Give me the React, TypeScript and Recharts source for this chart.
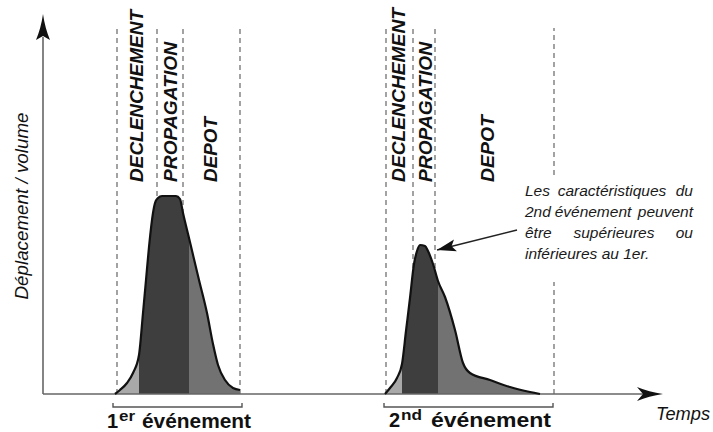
import React from "react";
import { ComposedChart, Area, Line, XAxis, YAxis, ReferenceLine, Scatter } from "recharts";

// time (t) / displacement-volume (v), schematic units
const EVENT1_T = [72, 77, 84, 90, 96, 100, 103, 106, 110, 112, 115, 119, 133, 137, 140, 146, 156, 164, 170, 175, 182, 190, 197];
const EVENT1_V = [0, 4, 11, 21, 39, 81, 114, 147, 181, 191, 196, 198, 198, 195, 181, 156, 114, 81, 50, 29, 14, 6, 4];
const EVENT1_PHASES = [96, 146];

const EVENT2_T = [342, 347, 354, 359, 363, 367, 371, 374, 377, 382, 385, 390, 395, 402, 412, 420, 427, 447, 467, 487, 497];
const EVENT2_V = [0, 6, 16, 30, 63, 96, 130, 143, 149, 148, 143, 130, 113, 97, 64, 31, 21, 14, 7, 2, 0];
const EVENT2_PHASES = [359, 395];

const EVENT1_DASHES = [74, 114, 140, 197];
const EVENT2_DASHES = [343, 370, 392];
const EVENT2_LAST_DASH = 511;
const DASH_TOP = 366;
const LAST_DASH_GAP = [112, 219];

const X_MAX = 620;
const Y_MAX = 380;
const Y_ARROW_NOTCH = 357;
const X_ARROW_NOTCH = 600;

const ANNOT_TAIL = { t: 474, v: 164 };
const ANNOT_TIP = { t: 394, v: 144 };

const PHASE_LABELS = ["DECLENCHEMENT", "PROPAGATION", "DEPOT"];
const EVENT1_LABEL_X = [143, 177, 217];
const EVENT1_LABEL_LEN = [172, 140, 65];
const EVENT2_LABEL_X = [405, 432, 494];
const EVENT2_LABEL_LEN = [174, 140, 67];

const NOTE_LINES = [
  ["Les", "caractéristiques", "du"],
  ["2nd", "événement", "peuvent"],
  ["être", "supérieures", "ou"],
];
const NOTE_MID_X = [612, 593, 614];
const NOTE_LAST = "inférieures au 1er.";

const COLORS = { light: "#a9a9a9", dark: "#3e3e3e", medium: "#727272" };

type Row = { t: number; light: number | null; dark: number | null; medium: number | null; outline: number | null };

const rowsFor = (ts: number[], vs: number[], phases: number[]): Row[] =>
  ts.map((t, i) => ({
    t,
    light: t <= phases[0] ? vs[i] : null,
    dark: t >= phases[0] && t <= phases[1] ? vs[i] : null,
    medium: t >= phases[1] ? vs[i] : null,
    outline: vs[i],
  }));

const rows: Row[] = [
  ...rowsFor(EVENT1_T, EVENT1_V, EVENT1_PHASES),
  { t: 270, light: null, dark: null, medium: null, outline: null },
  ...rowsFor(EVENT2_T, EVENT2_V, EVENT2_PHASES),
];

const UpArrow = (p: any) => {
  const { cx, cy } = p;
  return (
    <path
      d={`M${cx},${cy} Q${cx + 2},${cy + 14} ${cx + 7},${cy + 26} L${cx},${cy + 22} L${cx - 7},${cy + 26} Q${cx - 2},${cy + 14} ${cx},${cy} Z`}
      fill="#111"
    />
  );
};

const RightArrow = (p: any) => {
  const { cx, cy } = p;
  return (
    <path
      d={`M${cx},${cy} Q${cx - 14},${cy - 2} ${cx - 26},${cy - 7} L${cx - 20},${cy} L${cx - 26},${cy + 7} Q${cx - 14},${cy + 2} ${cx},${cy} Z`}
      fill="#111"
    />
  );
};

const NoteArrow = (p: any) => {
  const { cx, cy } = p;
  const dx = ANNOT_TAIL.t - ANNOT_TIP.t;
  const dy = -(ANNOT_TAIL.v - ANNOT_TIP.v);
  const len = Math.hypot(dx, dy);
  const ux = dx / len, uy = dy / len;
  const nx = -uy, ny = ux;
  const L = 19, Wd = 6;
  const bx = cx + ux * L, by = cy + uy * L;
  const mx = cx + ux * 15, my = cy + uy * 15;
  return (
    <path
      d={`M${cx},${cy} L${bx + nx * Wd},${by + ny * Wd} L${mx},${my} L${bx - nx * Wd},${by - ny * Wd} Z`}
      fill="#111"
    />
  );
};

const font = "'Liberation Sans', Arial, Helvetica, sans-serif";
const MARGIN = { top: 14, right: 50, bottom: 38, left: 43 };
const layer: React.CSSProperties = { position: "absolute", left: 0, top: 0 };

export default function App() {
  return (
    <div style={{ position: "absolute", left: 0, top: 0, width: 713, height: 432, background: "#fff" }}>
      {/* back layer: phase boundaries (dashed), hidden behind the filled curves */}
      <div style={layer}>
        <ComposedChart width={713} height={432} data={rows} margin={MARGIN}>
          <XAxis type="number" dataKey="t" domain={[0, X_MAX]} hide />
          <YAxis type="number" domain={[0, Y_MAX]} hide />
          <Line dataKey="outline" stroke="transparent" dot={false} activeDot={false} isAnimationActive={false} />
          {[...EVENT1_DASHES, ...EVENT2_DASHES].map((x) => (
            <ReferenceLine
              key={`d${x}`}
              segment={[{ x, y: 0 }, { x, y: DASH_TOP }]}
              stroke="#666"
              strokeWidth={1.2}
              strokeDasharray="5 4"
            />
          ))}
          <ReferenceLine
            segment={[{ x: EVENT2_LAST_DASH, y: 0 }, { x: EVENT2_LAST_DASH, y: LAST_DASH_GAP[0] }]}
            stroke="#666"
            strokeWidth={1.2}
            strokeDasharray="5 4"
          />
          <ReferenceLine
            segment={[{ x: EVENT2_LAST_DASH, y: LAST_DASH_GAP[1] }, { x: EVENT2_LAST_DASH, y: DASH_TOP }]}
            stroke="#666"
            strokeWidth={1.2}
            strokeDasharray="5 4"
          />
        </ComposedChart>
      </div>
      <div style={layer}>
        <ComposedChart width={713} height={432} data={rows} margin={MARGIN}>
          <XAxis type="number" dataKey="t" domain={[0, X_MAX]} hide />
          <YAxis type="number" domain={[0, Y_MAX]} hide />
          <Area type="monotone" dataKey="light" stroke="none" fill={COLORS.light} fillOpacity={1} isAnimationActive={false} />
          <Area type="monotone" dataKey="dark" stroke="none" fill={COLORS.dark} fillOpacity={1} isAnimationActive={false} />
          <Area type="monotone" dataKey="medium" stroke="none" fill={COLORS.medium} fillOpacity={1} isAnimationActive={false} />
          <ReferenceLine segment={[{ x: 0, y: 0 }, { x: 0, y: Y_ARROW_NOTCH }]} stroke="#666" strokeWidth={1.6} />
          <ReferenceLine segment={[{ x: 0, y: 0 }, { x: X_ARROW_NOTCH, y: 0 }]} stroke="#666" strokeWidth={1.6} />
          <Line type="monotone" dataKey="outline" stroke="#111" strokeWidth={2.2} dot={false} activeDot={false} isAnimationActive={false} />
          <ReferenceLine segment={[{ x: ANNOT_TAIL.t, y: ANNOT_TAIL.v }, { x: ANNOT_TIP.t, y: ANNOT_TIP.v }]} stroke="#222" strokeWidth={1.5} />
          <Scatter data={[{ t: 0, v: Y_MAX }]} dataKey="v" shape={UpArrow} isAnimationActive={false} />
          <Scatter data={[{ t: X_MAX, v: 0 }]} dataKey="v" shape={RightArrow} isAnimationActive={false} />
          <Scatter data={[ANNOT_TIP]} dataKey="v" shape={NoteArrow} isAnimationActive={false} />
        </ComposedChart>
      </div>
      <svg width={713} height={432} style={{ ...layer, pointerEvents: "none" }}>
        <g fontFamily={font} fill="#111">
          {PHASE_LABELS.map((s, i) => (
            <text
              key={`a${i}`}
              transform={`translate(${EVENT1_LABEL_X[i]},182) rotate(-90)`}
              fontSize={19}
              fontWeight="bold"
              fontStyle="italic"
              textLength={EVENT1_LABEL_LEN[i]}
              lengthAdjust="spacingAndGlyphs"
            >
              {s}
            </text>
          ))}
          {PHASE_LABELS.map((s, i) => (
            <text
              key={`b${i}`}
              transform={`translate(${EVENT2_LABEL_X[i]},182) rotate(-90)`}
              fontSize={19}
              fontWeight="bold"
              fontStyle="italic"
              textLength={EVENT2_LABEL_LEN[i]}
              lengthAdjust="spacingAndGlyphs"
            >
              {s}
            </text>
          ))}
          <text
            transform="translate(28,206) rotate(-90)"
            textAnchor="middle"
            fontSize={18.5}
            fontStyle="italic"
            textLength={187}
            lengthAdjust="spacingAndGlyphs"
          >
            Déplacement / volume
          </text>
          <text x={656} y={420} fontSize={17.5} fontStyle="italic" textLength={54} lengthAdjust="spacingAndGlyphs">
            Temps
          </text>
          <path d="M113,403 L113,407 L242,407 L242,403" fill="none" stroke="#555" strokeWidth={1.4} />
          <path d="M384,403 L384,407 L553,407 L553,403" fill="none" stroke="#555" strokeWidth={1.4} />
          <text x={107} y={428} fontSize={20} fontWeight="bold">1</text>
          <text x={119} y={421} fontSize={14} fontWeight="bold" textLength={16} lengthAdjust="spacingAndGlyphs">er</text>
          <text x={142} y={428} fontSize={20} fontWeight="bold" textLength={109} lengthAdjust="spacingAndGlyphs">événement</text>
          <text x={389} y={427} fontSize={20} fontWeight="bold">2</text>
          <text x={401} y={420} fontSize={14} fontWeight="bold" textLength={21} lengthAdjust="spacingAndGlyphs">nd</text>
          <text x={431} y={427} fontSize={20} fontWeight="bold" textLength={120} lengthAdjust="spacingAndGlyphs">événement</text>
          <g fontSize={15.5} fontStyle="italic" fill="#1a1a1a">
            {NOTE_LINES.map((words, i) => {
              const y = 196 + i * 21;
              return (
                <g key={`n${i}`}>
                  <text x={525} y={y}>{words[0]}</text>
                  <text x={NOTE_MID_X[i]} y={y} textAnchor="middle">{words[1]}</text>
                  <text x={693} y={y} textAnchor="end">{words[2]}</text>
                </g>
              );
            })}
            <text x={525} y={259}>{NOTE_LAST}</text>
          </g>
        </g>
      </svg>
    </div>
  );
}
